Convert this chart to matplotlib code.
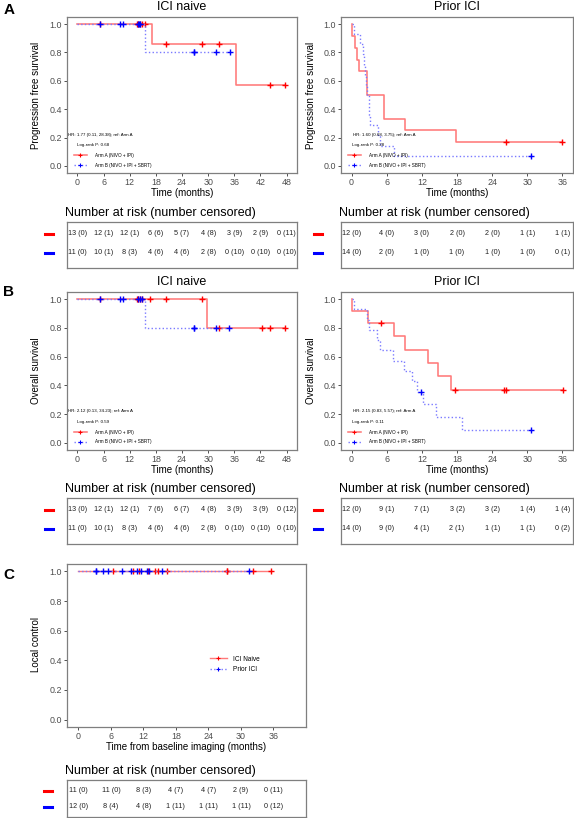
import matplotlib
matplotlib.use("Agg")
import matplotlib.pyplot as plt
from matplotlib.lines import Line2D

plt.rcParams['font.family'] = ['Liberation Sans', 'DejaVu Sans']

W, H = 574, 818

# ---- survival data (months): event times and censor times per arm ----
pfs_naive_a_events = [17.1, 36.4]
pfs_naive_a_censor = [5.1, 13.6, 13.9, 14.3, 14.9, 15.6, 20.4, 28.5, 32.5, 44.2, 47.7]
pfs_naive_b_events = [15.6]
pfs_naive_b_censor = [5.1, 9.8, 10.4, 13.8, 14.1, 14.4, 26.7, 26.7, 31.7, 35.1]

pfs_prior_a_events = [0.1, 0.6, 1.0, 1.3, 2.7, 2.7, 5.5, 5.5, 9.1, 17.8]
pfs_prior_a_censor = [26.4, 36.0]
pfs_prior_b_events = [0.4, 1.4, 1.9, 2.1, 2.3, 2.5, 2.7, 2.9, 3.0, 3.1, 4.6, 4.8, 7.3]
pfs_prior_b_censor = [30.6]

os_naive_a_events = [29.8]
os_naive_a_censor = [5.2, 13.6, 13.9, 14.3, 14.9, 16.6, 20.4, 28.6, 32.6, 42.4, 44.2, 47.7]
os_naive_b_events = [15.6]
os_naive_b_censor = [5.2, 9.8, 10.4, 13.8, 14.3, 14.9, 26.7, 26.7, 31.7, 34.9]

os_prior_a_events = [0.1, 2.8, 7.3, 9.2, 13.0, 14.8, 16.9]
os_prior_a_censor = [5.1, 17.7, 26.1, 26.4, 36.1]
os_prior_b_events = [0.4, 2.7, 2.9, 4.3, 4.8, 7.1, 9.0, 10.4, 11.2, 12.2, 14.5, 18.9]
os_prior_b_censor = [11.9, 30.7]

lc_naive_events = []
lc_naive_censor = [6.3, 10.0, 11.2, 12.9, 14.2, 14.6, 16.4, 27.4, 27.5, 32.3, 35.5]
lc_prior_events = []
lc_prior_censor = [3.2, 3.2, 4.6, 5.4, 8.0, 9.7, 10.8, 11.6, 12.7, 13.0, 15.4, 31.4]

# ---- number at risk tables ----
naive_times = [0, 6, 12, 18, 24, 30, 36, 42, 48]
prior_times = [0, 6, 12, 18, 24, 30, 36]
lc_times = [0, 6, 12, 18, 24, 30, 36]

pfs_naive_risk_a = ["13 (0)", "12 (1)", "12 (1)", "6 (6)", "5 (7)", "4 (8)", "3 (9)", "2 (9)", "0 (11)"]
pfs_naive_risk_b = ["11 (0)", "10 (1)", "8 (3)", "4 (6)", "4 (6)", "2 (8)", "0 (10)", "0 (10)", "0 (10)"]
pfs_prior_risk_a = ["12 (0)", "4 (0)", "3 (0)", "2 (0)", "2 (0)", "1 (1)", "1 (1)"]
pfs_prior_risk_b = ["14 (0)", "2 (0)", "1 (0)", "1 (0)", "1 (0)", "1 (0)", "0 (1)"]
os_naive_risk_a = ["13 (0)", "12 (1)", "12 (1)", "7 (6)", "6 (7)", "4 (8)", "3 (9)", "3 (9)", "0 (12)"]
os_naive_risk_b = ["11 (0)", "10 (1)", "8 (3)", "4 (6)", "4 (6)", "2 (8)", "0 (10)", "0 (10)", "0 (10)"]
os_prior_risk_a = ["12 (0)", "9 (1)", "7 (1)", "3 (2)", "3 (2)", "1 (4)", "1 (4)"]
os_prior_risk_b = ["14 (0)", "9 (0)", "4 (1)", "2 (1)", "1 (1)", "1 (1)", "0 (2)"]
lc_risk_naive = ["11 (0)", "11 (0)", "8 (3)", "4 (7)", "4 (7)", "2 (9)", "0 (11)"]
lc_risk_prior = ["12 (0)", "8 (4)", "4 (8)", "1 (11)", "1 (11)", "1 (11)", "0 (12)"]

arm_labels = ["Arm A (NIVO + IPI)", "Arm B (NIVO + IPI + SBRT)"]
lc_labels = ["ICI Naive", "Prior ICI"]

RED_LINE, RED = "#FF7A7A", "#FF0000"
BLUE_LINE, BLUE = "#7A7AFF", "#0000FF"

fig = plt.figure(figsize=(W / 100, H / 100), dpi=100)


def add_ax(l, t, r, b):
    return fig.add_axes([l / W, 1 - b / H, (r - l) / W, (b - t) / H])


def ftext(x, y, s, **kw):
    fig.text(x / W, 1 - y / H, s, **kw)


def km_curve(events, censor):
    s = 1.0
    xs, ys = [0.0], [1.0]
    surv_at = {}
    at_risk = len(events) + len(censor)
    for t in sorted(set(events) | set(censor)):
        d = events.count(t)
        c = censor.count(t)
        if d:
            s *= (at_risk - d) / at_risk
        xs.append(t)
        ys.append(s)
        surv_at[t] = s
        at_risk -= d + c
    return xs, ys, list(censor), [surv_at[t] for t in censor]


def draw_arm(ax, events, censor, line_color, mark_color, ls, lw):
    xs, ys, cx, cy = km_curve(events, censor)
    ax.step(xs, ys, where='post', color=line_color, ls=ls, lw=lw)
    ax.plot(cx, cy, '+', color=mark_color, ms=4.5, mew=1.0)
    return Line2D([], [], color=line_color, ls=ls, lw=lw, marker='+',
                  markeredgecolor=mark_color, ms=3, mew=0.8)


def style(ax, xlim, ticks):
    ax.set_xlim(*xlim)
    ax.set_ylim(-0.05, 1.05)
    ax.set_xticks(ticks)
    ax.set_yticks([0, 0.2, 0.4, 0.6, 0.8, 1.0])
    ax.set_yticklabels(["0.0", "0.2", "0.4", "0.6", "0.8", "1.0"])
    for sp in ax.spines.values():
        sp.set_color("#7F7F7F")
        sp.set_linewidth(0.9)
    ax.tick_params(length=2.5, width=0.6, color="#333333", labelsize=6.4,
                   labelcolor="#4D4D4D", pad=1.2)


def km_panel(box, xlim, ticks, arm_a, arm_b, hr, lr, hr_x, lr_x, title, ylabel, ylab_x):
    ax = add_ax(*box)
    h1 = draw_arm(ax, arm_a[0], arm_a[1], RED_LINE, RED, '-', 1.15)
    h2 = draw_arm(ax, arm_b[0], arm_b[1], BLUE_LINE, BLUE, ':', 1.0)
    style(ax, xlim, ticks)
    ax.text(hr_x, 0.245, hr, transform=ax.transAxes, fontsize=3.2, va='center')
    ax.text(lr_x, 0.18, lr, transform=ax.transAxes, fontsize=3.2, va='center')
    ax.legend([h1, h2], arm_labels, loc='lower left', bbox_to_anchor=(0.03, 0.035),
              fontsize=3.3, frameon=False, handlelength=2.8, handletextpad=1.7,
              labelspacing=1.0, borderpad=0, borderaxespad=0)
    l, t, r, b = box
    ftext((l + r) / 2, t - 10, title, ha='center', va='center', fontsize=9)
    ftext((l + r) / 2, b + 20, "Time (months)", ha='center', va='center', fontsize=7)
    ftext(ylab_x, (t + b) / 2, ylabel, ha='center', va='center', rotation=90, fontsize=7)
    return ax


def risk_table(box, xlim, times, row_a, row_b, dash_x, rows=(0.74, 0.33)):
    ax = add_ax(*box)
    ax.set_xlim(*xlim)
    ax.set_ylim(0, 1)
    ax.set_xticks([])
    ax.set_yticks([])
    for sp in ax.spines.values():
        sp.set_color("#7F7F7F")
        sp.set_linewidth(0.9)
    for t, a, b in zip(times, row_a, row_b):
        ax.text(t, rows[0], a, ha='center', va='center', fontsize=5.2, color="#222222")
        ax.text(t, rows[1], b, ha='center', va='center', fontsize=5.2, color="#222222")
    l, top, r, bot = box
    ftext(l - 2, top - 9, "Number at risk (number censored)", ha='left', va='center', fontsize=9)
    for frac, col in zip(rows, [RED, BLUE]):
        y = 1 - (bot - (bot - top) * frac) / H
        fig.add_artist(Line2D([(dash_x - 4) / W, (dash_x + 4) / W], [y, y],
                              transform=fig.transFigure, color=col, lw=2.2))
    return ax


naive_xlim = (-2.4, 50.4)
prior_xlim = (-1.8, 37.8)

# panel A
km_panel((67, 17, 297, 173), naive_xlim, naive_times,
         (pfs_naive_a_events, pfs_naive_a_censor), (pfs_naive_b_events, pfs_naive_b_censor),
         "HR: 1.77 (0.11, 28.38); ref: Arm A", "Log-rank P: 0.68", 0.003, 0.043,
         "ICI naive", "Progression free survival", 36)
km_panel((341, 17, 573, 173), prior_xlim, prior_times,
         (pfs_prior_a_events, pfs_prior_a_censor), (pfs_prior_b_events, pfs_prior_b_censor),
         "HR: 1.60 (0.68, 3.75); ref: Arm A", "Log-rank P: 0.28", 0.05, 0.047,
         "Prior ICI", "Progression free survival", 311)
risk_table((67, 222, 297, 268), naive_xlim, naive_times, pfs_naive_risk_a, pfs_naive_risk_b, 49)
risk_table((341, 222, 573, 268), prior_xlim, prior_times, pfs_prior_risk_a, pfs_prior_risk_b, 318)

# panel B
km_panel((67, 292, 297, 450), naive_xlim, naive_times,
         (os_naive_a_events, os_naive_a_censor), (os_naive_b_events, os_naive_b_censor),
         "HR: 2.12 (0.13, 34.23); ref: Arm A", "Log-rank P: 0.59", 0.003, 0.043,
         "ICI naive", "Overall survival", 36)
km_panel((341, 292, 573, 450), prior_xlim, prior_times,
         (os_prior_a_events, os_prior_a_censor), (os_prior_b_events, os_prior_b_censor),
         "HR: 2.15 (0.83, 5.57); ref: Arm A", "Log-rank P: 0.11", 0.05, 0.047,
         "Prior ICI", "Overall survival", 311)
risk_table((67, 498, 297, 544), naive_xlim, naive_times, os_naive_risk_a, os_naive_risk_b, 49)
risk_table((341, 498, 573, 544), prior_xlim, prior_times, os_prior_risk_a, os_prior_risk_b, 318)

# panel C
lc_xlim = (-2.1, 42.0)
axc = add_ax(67, 564, 306, 727)
h1 = draw_arm(axc, lc_naive_events, lc_naive_censor, RED_LINE, RED, '-', 1.0)
h2 = draw_arm(axc, lc_prior_events, lc_prior_censor, BLUE_LINE, BLUE, ':', 1.0)
style(axc, lc_xlim, lc_times)
axc.legend([h1, h2], lc_labels, loc='lower left', bbox_to_anchor=(0.598, 0.33),
           fontsize=4.7, frameon=False, handlelength=2.6, handletextpad=0.9,
           labelspacing=0.55, borderpad=0, borderaxespad=0)
ftext(186.5, 747, "Time from baseline imaging (months)", ha='center', va='center', fontsize=7)
ftext(36, 645, "Local control", ha='center', va='center', rotation=90, fontsize=7)
risk_table((67, 780, 306, 817), lc_xlim, lc_times, lc_risk_naive, lc_risk_prior, 48,
           rows=(0.71, 0.28))

# panel letters
ftext(9, 10, "A", fontsize=11, fontweight='bold', va='center', ha='center')
ftext(9, 292, "B", fontsize=11, fontweight='bold', va='center', ha='center')
ftext(9, 575, "C", fontsize=11, fontweight='bold', va='center', ha='center')

fig.savefig("out.png", dpi=100)
